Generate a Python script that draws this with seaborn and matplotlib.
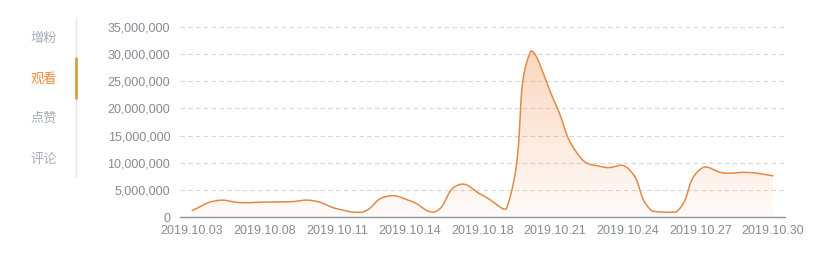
import numpy as np
import pandas as pd
import matplotlib
matplotlib.use("Agg")
import matplotlib.pyplot as plt
import seaborn as sns
from matplotlib.lines import Line2D
from matplotlib.ticker import FuncFormatter

# ---------------- data ----------------
dates = ["2019.10.03", "2019.10.05", "2019.10.06", "2019.10.08", "2019.10.09",
         "2019.10.10", "2019.10.11", "2019.10.12", "2019.10.13", "2019.10.14",
         "2019.10.15", "2019.10.17", "2019.10.18", "2019.10.19", "2019.10.20",
         "2019.10.21", "2019.10.22", "2019.10.23", "2019.10.24", "2019.10.25",
         "2019.10.26", "2019.10.27", "2019.10.28", "2019.10.29", "2019.10.30"]
views = [1.2e6, 3.0e6, 2.65e6, 2.75e6, 2.8e6,
         3.0e6, 1.5e6, 0.85e6, 3.75e6, 3.0e6,
         0.9e6, 5.9e6, 4.0e6, 1.6e6, 30.6e6,
         21.0e6, 11.2e6, 9.2e6, 9.0e6, 1.1e6,
         0.9e6, 8.8e6, 8.1e6, 8.2e6, 7.6e6]
y_ticks = [0, 5e6, 10e6, 15e6, 20e6, 25e6, 30e6, 35e6]
tabs = ["增粉", "观看", "点赞", "评论"]
active_tab = "观看"

df = pd.DataFrame({"date": dates, "views": views})

# ---------------- style ----------------
sns.set_theme(style="white")
plt.rcParams["font.family"] = ["Liberation Sans", "Noto Sans CJK SC", "DejaVu Sans"]

LINE = "#e08a48"
LABEL = "#858b96"
GRID = "#d6d6d6"

W, H = 839, 260
fig = plt.figure(figsize=(W / 100, H / 100), dpi=100)
ax_l, ax_r, ax_t, ax_b = 180, 785, 27, 217
ax = fig.add_axes([ax_l / W, 1 - ax_b / H, (ax_r - ax_l) / W, (ax_b - ax_t) / H])

# ---------------- smooth curve (bezier smoothing, constrained to data bbox) ----------------
n = len(df)
xi = np.arange(n, dtype=float)
yi = df["views"].to_numpy(dtype=float)
px_per_x = (ax_r - ax_l) / n
px_per_y = (ax_b - ax_t) / 35e6
P = np.column_stack([xi * px_per_x, yi * px_per_y])
pmin, pmax = P.min(axis=0), P.max(axis=0)
smooth = 0.5
cp_prev = np.zeros_like(P)
cp_next = np.zeros_like(P)
for i in range(n):
    prev = P[i - 1] if i > 0 else P[i]
    nxt = P[i + 1] if i < n - 1 else P[i]
    v = nxt - prev
    d0 = np.linalg.norm(P[i] - prev)
    d1 = np.linalg.norm(nxt - P[i])
    r = d0 / (d0 + d1) if (d0 + d1) > 0 else 0.5
    cp_prev[i] = np.clip(P[i] - v * smooth * r, pmin, pmax)
    cp_next[i] = np.clip(P[i] + v * smooth * (1 - r), pmin, pmax)
segs = []
t = np.linspace(0, 1, 40)[:, None]
for i in range(n - 1):
    p0, p1, p2, p3 = P[i], cp_next[i], cp_prev[i + 1], P[i + 1]
    b = (1 - t) ** 3 * p0 + 3 * (1 - t) ** 2 * t * p1 + 3 * (1 - t) * t ** 2 * p2 + t ** 3 * p3
    segs.append(b if i == 0 else b[1:])
curve = np.vstack(segs)
cx = curve[:, 0] / px_per_x
cy = curve[:, 1] / px_per_y

# gradient area
poly = ax.fill_between(cx, cy, 0, color="none", lw=0)
top = yi.max()
grad = np.zeros((256, 1, 4))
grad[..., 0] = 246 / 255
grad[..., 1] = 155 / 255
grad[..., 2] = 95 / 255
grad[:, 0, 3] = np.linspace(0.04, 0.40, 256)
im = ax.imshow(grad, extent=[-0.5, n - 0.5, 0, top], origin="lower",
               aspect="auto", zorder=1, interpolation="bicubic")
im.set_clip_path(poly.get_paths()[0], transform=ax.transData)

sns.lineplot(x=cx, y=cy, ax=ax, color=LINE, linewidth=1.1, sort=False,
             estimator=None, zorder=3)

# ---------------- axes ----------------
ax.set_xlim(-0.5, n - 0.5)
ax.set_ylim(0, 35e6)
ax.set_yticks(y_ticks)
ax.yaxis.set_major_formatter(FuncFormatter(lambda v, p: f"{int(v):,}"))
tick_idx = list(range(0, n, 3))
ax.set_xticks(tick_idx)
ax.set_xticklabels([dates[i] for i in tick_idx])
for y in y_ticks[1:]:
    ax.axhline(y, color=GRID, lw=0.8, ls=(0, (4, 3)), zorder=0)
for s in ["top", "right", "left"]:
    ax.spines[s].set_visible(False)
ax.spines["bottom"].set_color("#8e939c")
ax.spines["bottom"].set_linewidth(1.0)
ax.tick_params(axis="y", length=0, pad=7, labelsize=9, labelcolor=LABEL)
ax.tick_params(axis="x", length=4.5, width=1, color="#8e939c", pad=1.5,
               labelsize=9, labelcolor=LABEL, direction="out")
ax.set_xlabel("")
ax.set_ylabel("")
ax.set_facecolor("white")

# ---------------- sidebar tabs ----------------
tab_y = [38, 79, 118, 159]
for name, ty in zip(tabs, tab_y):
    col = "#f08a3c" if name == active_tab else "#a4acba"
    fig.text(44 / W, 1 - ty / H, name, ha="center", va="center", fontsize=9.5,
             color=col, family=["Noto Sans CJK SC", "DejaVu Sans"])
fig.add_artist(Line2D([76 / W, 76 / W], [1 - 18 / H, 1 - 177 / H],
                      color="#e6e6e6", lw=1.0, transform=fig.transFigure))
fig.add_artist(Line2D([76 / W, 76 / W], [1 - 58 / H, 1 - 98 / H],
                      color="#d9a03c", lw=2.0, transform=fig.transFigure))

fig.savefig("out.png", dpi=100, facecolor="white")
